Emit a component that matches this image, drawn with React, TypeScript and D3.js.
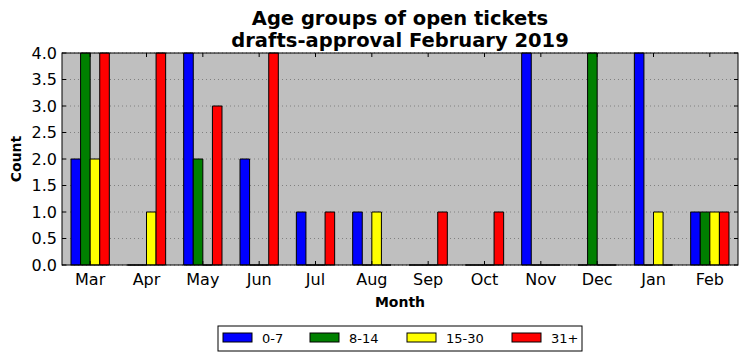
import React, { useEffect, useRef } from "react";
import * as d3 from "d3";

const months = ["Mar", "Apr", "May", "Jun", "Jul", "Aug", "Sep", "Oct", "Nov", "Dec", "Jan", "Feb"];
const groups = ["0-7", "8-14", "15-30", "31+"];
const colors = ["#0000ff", "#008000", "#ffff00", "#ff0000"];
const age0to7 = [2, 0, 4, 2, 1, 1, 0, 0, 4, 0, 4, 1];
const age8to14 = [4, 0, 2, 0, 0, 0, 0, 0, 0, 4, 0, 1];
const age15to30 = [2, 1, 0, 0, 0, 1, 0, 0, 0, 0, 1, 1];
const age31plus = [4, 4, 3, 4, 1, 0, 1, 1, 0, 0, 0, 1];
const yTicks = [0, 0.5, 1, 1.5, 2, 2.5, 3, 3.5, 4];

const App = () => {
  const ref = useRef<SVGSVGElement>(null);

  useEffect(() => {
    draw();
  });

  let draw = () => {
    const svg = d3.select(ref.current);
    svg.selectAll("*").remove();

    const width = 747;
    const height = 361;
    const margin = { top: 53, right: 9, bottom: 96, left: 62 };
    const plotW = width - margin.left - margin.right;
    const plotH = height - margin.top - margin.bottom;
    const font = "DejaVu Sans, sans-serif";

    const x = d3.scaleLinear().domain([-0.5, 11.5]).range([0, plotW]);
    const y = d3.scaleLinear().domain([0, 4]).range([plotH, 0]);
    const series = [age0to7, age8to14, age15to30, age31plus];
    const bw = 0.17;

    const g = svg.append("g").attr("transform", `translate(${margin.left},${margin.top})`);

    g.append("rect").attr("width", plotW).attr("height", plotH).attr("fill", "#bfbfbf");

    // dotted grid
    g.selectAll(".grid")
      .data(yTicks)
      .enter()
      .append("line")
      .attr("x1", 0)
      .attr("x2", plotW)
      .attr("y1", (d) => y(d))
      .attr("y2", (d) => y(d))
      .attr("stroke", "#808080")
      .attr("stroke-width", 1)
      .attr("stroke-dasharray", "1,3");

    // bars (paths so zero-height bars still show their edge)
    series.forEach((vals, si) => {
      g.selectAll(".bar" + si)
        .data(vals)
        .enter()
        .append("path")
        .attr("d", (d, i) => {
          const x0 = x(i + (si - 2) * bw);
          const w = x(bw) - x(0);
          const y0 = y(0);
          const h = y0 - y(d);
          return `M${x0},${y0}h${w}v${-h}h${-w}Z`;
        })
        .attr("fill", colors[si])
        .attr("stroke", "black")
        .attr("stroke-width", 1);
    });

    // ticks, inward on all sides
    const tl = 4;
    months.forEach((m, i) => {
      const px = x(i);
      g.append("line").attr("x1", px).attr("x2", px).attr("y1", plotH).attr("y2", plotH - tl).attr("stroke", "black");
      g.append("line").attr("x1", px).attr("x2", px).attr("y1", 0).attr("y2", tl).attr("stroke", "black");
      g.append("text")
        .attr("x", px)
        .attr("y", plotH + 19.5)
        .attr("text-anchor", "middle")
        .attr("font-family", font)
        .attr("font-size", 16)
        .text(m);
    });
    yTicks.forEach((t) => {
      const py = y(t);
      g.append("line").attr("x1", 0).attr("x2", tl).attr("y1", py).attr("y2", py).attr("stroke", "black");
      g.append("line").attr("x1", plotW).attr("x2", plotW - tl).attr("y1", py).attr("y2", py).attr("stroke", "black");
      g.append("text")
        .attr("x", -5)
        .attr("y", py)
        .attr("dy", "0.36em")
        .attr("text-anchor", "end")
        .attr("font-family", font)
        .attr("font-size", 16)
        .text(t.toFixed(1));
    });

    g.append("rect")
      .attr("width", plotW)
      .attr("height", plotH)
      .attr("fill", "none")
      .attr("stroke", "black")
      .attr("stroke-width", 1);

    // title
    const title = svg
      .append("text")
      .attr("x", margin.left + plotW / 2)
      .attr("text-anchor", "middle")
      .attr("font-family", font)
      .attr("font-size", 19.5)
      .attr("font-weight", "bold");
    title.append("tspan").attr("x", margin.left + plotW / 2).attr("y", 25).text("Age groups of open tickets");
    title.append("tspan").attr("x", margin.left + plotW / 2).attr("y", 47).text("drafts-approval February 2019");

    svg.append("text")
      .attr("x", margin.left + plotW / 2)
      .attr("y", 306.5)
      .attr("text-anchor", "middle")
      .attr("font-family", font)
      .attr("font-size", 14)
      .attr("font-weight", "bold")
      .text("Month");

    svg.append("text")
      .attr("transform", `translate(21,${margin.top + plotH / 2}) rotate(-90)`)
      .attr("text-anchor", "middle")
      .attr("font-family", font)
      .attr("font-size", 14)
      .attr("font-weight", "bold")
      .text("Count");

    // legend
    const lg = svg.append("g").attr("transform", "translate(218,326)");
    lg.append("rect").attr("width", 364).attr("height", 25).attr("fill", "white").attr("stroke", "black");
    const offsets = [5, 92, 189, 294];
    groups.forEach((name, i) => {
      lg.append("rect")
        .attr("x", offsets[i])
        .attr("y", 7)
        .attr("width", 29)
        .attr("height", 9)
        .attr("fill", colors[i])
        .attr("stroke", "black");
      lg.append("text")
        .attr("x", offsets[i] + 39)
        .attr("y", 17)
        .attr("font-family", font)
        .attr("font-size", 13)
        .text(name);
    });
  };

  return <svg ref={ref} width={747} height={361} style={{ position: "absolute", left: 0, top: 0 }} />;
};

export default App;
